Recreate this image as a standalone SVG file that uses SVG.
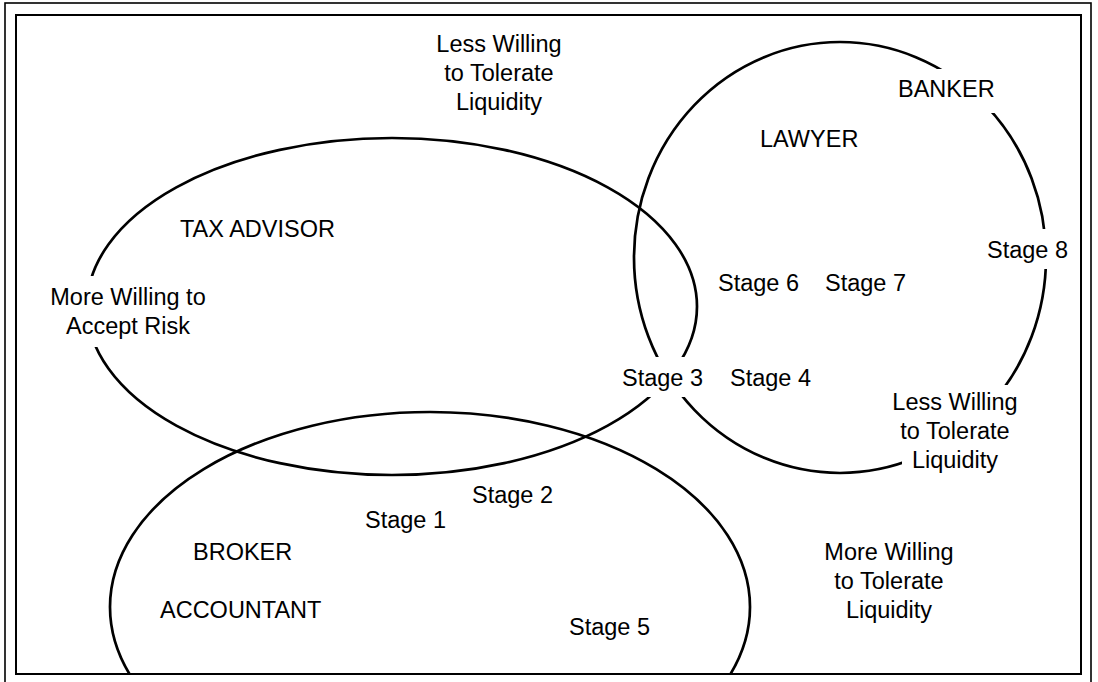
<svg xmlns="http://www.w3.org/2000/svg" width="1098" height="682" viewBox="0 0 1098 682">
<style>
.set{fill:none;stroke:#000;stroke-width:2.7}
.frame{fill:none;stroke:#000}
text{font-family:"Liberation Sans",Arial,Helvetica,sans-serif;font-size:23.5px;fill:#000}
.c{text-anchor:middle}
</style>
<defs>
<mask id="gaps" maskUnits="userSpaceOnUse" x="0" y="0" width="1098" height="682">
<rect x="0" y="0" width="1098" height="682" fill="#fff"/>
<rect x="40" y="276" width="180" height="71" fill="#000"/>
<rect x="600" y="357" width="120" height="40" fill="#000"/>
<rect x="936" y="69" width="60" height="44" fill="#000"/>
<rect x="975" y="229" width="95" height="40" fill="#000"/>
<rect x="902" y="385" width="130" height="95" fill="#000"/>
</mask>
<clipPath id="inner"><rect x="16" y="15" width="1065" height="659"/></clipPath>
</defs>
<rect width="1098" height="682" fill="#fff"/>
<g id="frame">
<rect class="frame" x="5" y="3" width="1086" height="684" stroke-width="1.6"/>
<rect class="frame" x="16" y="15" width="1065" height="659" stroke-width="2"/>
</g>
<g id="connectors"/>
<g mask="url(#gaps)" clip-path="url(#inner)">
<g id="tax-advisor-set"><ellipse class="set" cx="392" cy="306.5" rx="305" ry="168.5"/></g>
<g id="lawyer-banker-set"><ellipse class="set" cx="840" cy="257.5" rx="206" ry="215.5"/></g>
<g id="broker-accountant-set"><ellipse class="set" cx="430" cy="607" rx="320" ry="195"/></g>
</g>
<g id="label-less-willing-top"><text x="499" y="52" class="c">Less Willing</text><text x="499" y="81" class="c">to Tolerate</text><text x="499" y="110" class="c">Liquidity</text></g>
<g id="label-banker"><text x="898" y="97">BANKER</text></g>
<g id="label-lawyer"><text x="760" y="147">LAWYER</text></g>
<g id="label-tax-advisor"><text x="180" y="237">TAX ADVISOR</text></g>
<g id="label-stage8"><text x="987" y="258">Stage 8</text></g>
<g id="label-more-willing-risk"><text x="128" y="305" class="c">More Willing to</text><text x="128" y="334" class="c">Accept Risk</text></g>
<g id="label-stage6"><text x="718" y="291">Stage 6</text></g>
<g id="label-stage7"><text x="825" y="291">Stage 7</text></g>
<g id="label-stage3"><text x="622" y="386">Stage 3</text></g>
<g id="label-stage4"><text x="730" y="386">Stage 4</text></g>
<g id="label-less-willing-right"><text x="955" y="410" class="c">Less Willing</text><text x="955" y="439" class="c">to Tolerate</text><text x="955" y="468" class="c">Liquidity</text></g>
<g id="label-stage2"><text x="472" y="503">Stage 2</text></g>
<g id="label-stage1"><text x="365" y="528">Stage 1</text></g>
<g id="label-broker"><text x="193" y="560">BROKER</text></g>
<g id="label-accountant"><text x="160" y="618">ACCOUNTANT</text></g>
<g id="label-more-willing-liquidity"><text x="889" y="560" class="c">More Willing</text><text x="889" y="589" class="c">to Tolerate</text><text x="889" y="618" class="c">Liquidity</text></g>
<g id="label-stage5"><text x="569" y="635">Stage 5</text></g>
</svg>
